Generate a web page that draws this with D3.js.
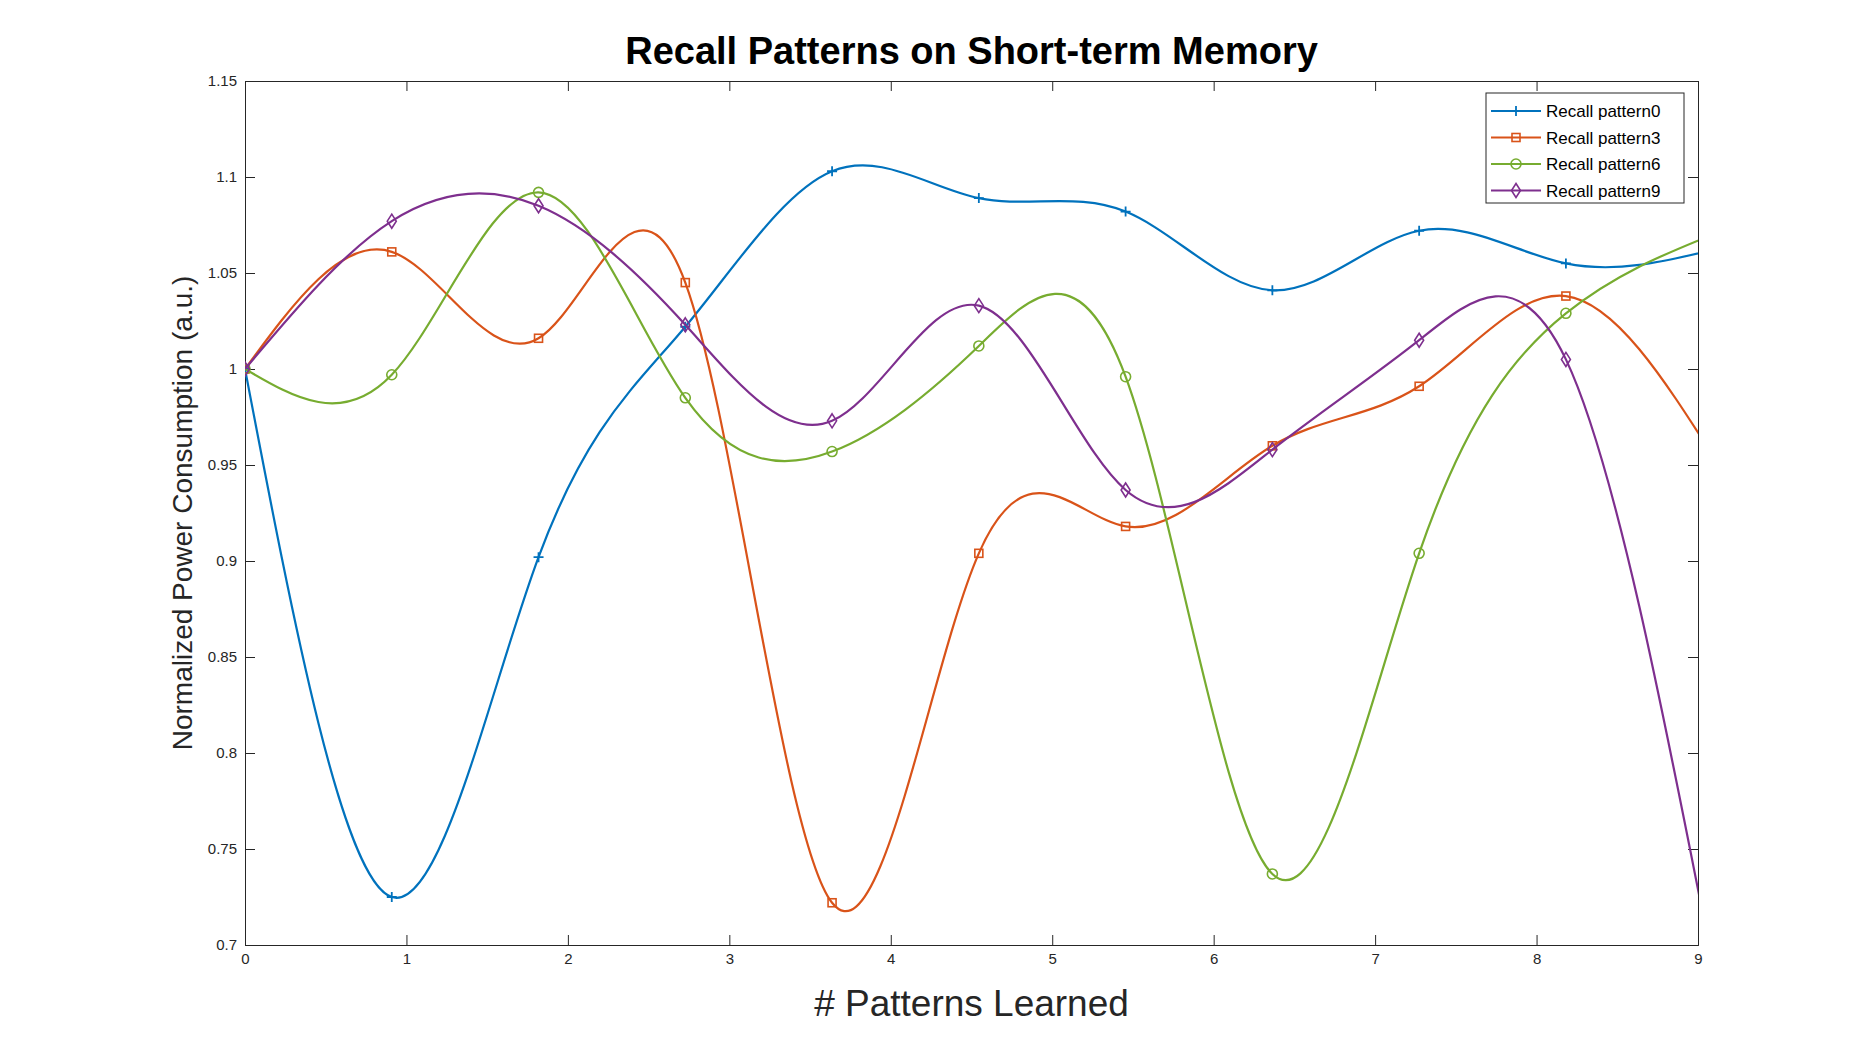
<!DOCTYPE html>
<html><head><meta charset="utf-8">
<script src="https://cdn.jsdelivr.net/npm/d3@7"></script>
<style>body{margin:0;background:#fff}</style></head>
<body><div id="chart"></div>
<script>
// data, samples at i*10/11
const xs = d3.range(11).map(i => i * 10 / 11);
const names = ["Recall pattern0", "Recall pattern3", "Recall pattern6", "Recall pattern9"];
const p0 = [1.0, 0.725, 0.902, 1.022, 1.103, 1.089, 1.082, 1.041, 1.072, 1.055, 1.062];
const p3 = [1.0, 1.061, 1.016, 1.045, 0.722, 0.904, 0.918, 0.960, 0.991, 1.038, 0.955];
const p6 = [1.0, 0.997, 1.092, 0.985, 0.957, 1.012, 0.996, 0.737, 0.904, 1.029, 1.07];
const p9 = [1.0, 1.077, 1.085, 1.023, 0.973, 1.033, 0.937, 0.958, 1.015, 1.005, 0.69];
const colors = ["#0072BD", "#D95319", "#77AC30", "#7E2F8E"];
const markers = ["plus", "square", "circle", "diamond"];
const xTicks = d3.range(10);
const yTicks = d3.range(0.7, 1.1501, 0.05);

const width = 1876, height = 1061;
const margin = {left: 245, right: 1876 - 1698, top: 81, bottom: 1061 - 945};

const svg = d3.select("#chart").append("svg")
  .attr("width", width).attr("height", height)
  .style("font-family", "Arial, 'Liberation Sans', sans-serif");

const x = d3.scaleLinear().domain([0, 9]).range([margin.left, width - margin.right]);
const y = d3.scaleLinear().domain([0.7, 1.15]).range([height - margin.bottom, margin.top]);

svg.append("defs").append("clipPath").attr("id", "clip")
  .append("rect").attr("x", margin.left).attr("y", margin.top)
  .attr("width", x(9) - x(0)).attr("height", y(0.7) - y(1.15));

// axes (box style with inward ticks)
const tk = 10;
svg.append("g").attr("transform", `translate(0,${y(0.7)})`)
  .call(d3.axisBottom(x).tickValues(xTicks).tickSize(-tk).tickPadding(8).tickFormat(d3.format("d")));
svg.append("g").attr("transform", `translate(0,${y(1.15)})`)
  .call(d3.axisTop(x).tickValues(xTicks).tickSize(-tk).tickFormat(""));
svg.append("g").attr("transform", `translate(${x(0)},0)`)
  .call(d3.axisLeft(y).tickValues(yTicks).tickSize(-tk).tickPadding(8).tickFormat(d => +d.toFixed(2)));
svg.append("g").attr("transform", `translate(${x(9)},0)`)
  .call(d3.axisRight(y).tickValues(yTicks).tickSize(-tk).tickFormat(""));
svg.selectAll(".domain, .tick line").attr("stroke", "#262626");
svg.selectAll(".tick text").attr("font-size", 15).attr("fill", "#262626");

const series = [p0, p3, p6, p9];
const line = d3.line().x((d, i) => x(xs[i])).y(d => y(d)).curve(d3.curveNatural);
const plot = svg.append("g").attr("clip-path", "url(#clip)");

function drawMarker(g, type, cx, cy, c) {
  if (type === "plus") {
    g.append("path").attr("d", `M${cx-5},${cy}H${cx+5}M${cx},${cy-5}V${cy+5}`).attr("stroke", c).attr("stroke-width", 1.8);
  } else if (type === "square") {
    g.append("rect").attr("x", cx-4).attr("y", cy-4).attr("width", 8).attr("height", 8)
      .attr("fill", "none").attr("stroke", c).attr("stroke-width", 1.6);
  } else if (type === "circle") {
    g.append("circle").attr("cx", cx).attr("cy", cy).attr("r", 5)
      .attr("fill", "none").attr("stroke", c).attr("stroke-width", 1.6);
  } else {
    g.append("path").attr("d", `M${cx},${cy-7}L${cx+4.5},${cy}L${cx},${cy+7}L${cx-4.5},${cy}Z`)
      .attr("fill", "none").attr("stroke", c).attr("stroke-width", 1.6);
  }
}

series.forEach((s, k) => {
  plot.append("path").datum(s).attr("d", line)
    .attr("fill", "none").attr("stroke", colors[k]).attr("stroke-width", 2.2);
  s.forEach((v, i) => { if (xs[i] <= 9) drawMarker(plot, markers[k], x(xs[i]), y(v), colors[k]); });
});

// legend
const lg = svg.append("g").attr("transform", "translate(1486,93)");
lg.append("rect").attr("width", 198).attr("height", 110).attr("fill", "#fff").attr("stroke", "#262626");
names.forEach((n, k) => {
  const yy = 18 + k * 26.5;
  lg.append("line").attr("x1", 5).attr("x2", 55).attr("y1", yy).attr("y2", yy)
    .attr("stroke", colors[k]).attr("stroke-width", 2.2);
  drawMarker(lg, markers[k], 30, yy, colors[k]);
  lg.append("text").attr("x", 60).attr("y", yy + 6).attr("font-size", 17).attr("fill", "#000").text(n);
});

svg.append("text").attr("x", (x(0) + x(9)) / 2).attr("y", 64).attr("text-anchor", "middle")
  .attr("font-size", 38).attr("font-weight", "bold").text("Recall Patterns on Short-term Memory");
svg.append("text").attr("x", (x(0) + x(9)) / 2).attr("y", 1016).attr("text-anchor", "middle")
  .attr("font-size", 37).attr("fill", "#262626").text("# Patterns Learned");
svg.append("text").attr("transform", `translate(192,${(y(0.7) + y(1.15)) / 2}) rotate(-90)`)
  .attr("text-anchor", "middle").attr("font-size", 28).attr("fill", "#262626")
  .text("Normalized Power Consumption (a.u.)");
</script></body></html>
